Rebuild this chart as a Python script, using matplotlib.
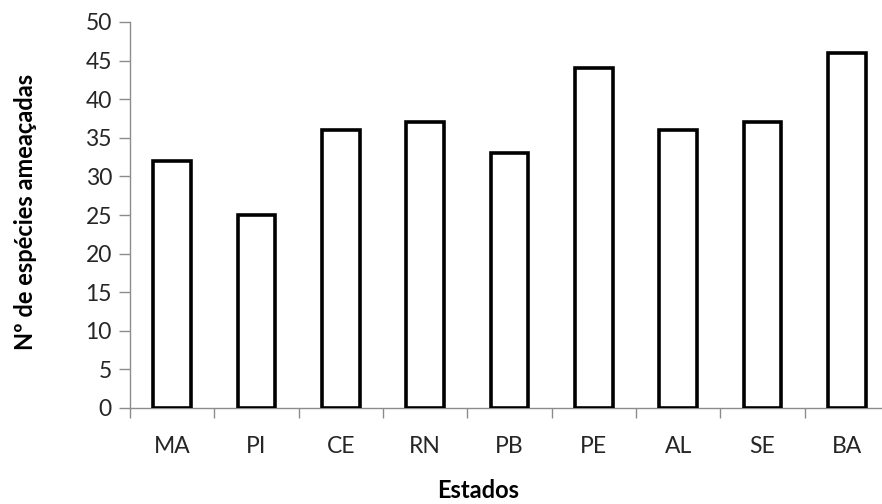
import numpy as np
import matplotlib.pyplot as plt

estados = ["MA", "PI", "CE", "RN", "PB", "PE", "AL", "SE", "BA"]
n_especies = [32, 25, 36, 37, 33, 44, 36, 37, 46]

plt.rcParams["font.family"] = ["Lato", "DejaVu Sans"]

W, H = 882, 504
fig = plt.figure(figsize=(W / 100, H / 100), dpi=100)
# plot area in pixels: left 130, right 889, top 22, bottom 408
ax = fig.add_axes([130 / W, 1 - 408 / H, (889 - 130) / W, (408 - 22) / H])

x = np.arange(len(estados))
ax.bar(x, n_especies, width=0.45, color="white", edgecolor="black", linewidth=2.6, zorder=3)

ax.set_xlim(-0.5, len(estados) - 0.5)
ax.set_ylim(0, 50)
ax.set_yticks(range(0, 51, 5))
ax.set_xticks(x)
ax.set_xticklabels(estados)
ax.set_xticks(np.arange(-0.5, len(estados), 1), minor=True)

for s in ["top", "right"]:
    ax.spines[s].set_visible(False)
for s in ["left", "bottom"]:
    ax.spines[s].set_color("#8c8c8c")
    ax.spines[s].set_linewidth(1.0)

ax.tick_params(axis="y", direction="out", length=8, width=1, color="#8c8c8c",
               labelsize=16.5, labelcolor="#262626", pad=5)
ax.tick_params(axis="x", which="major", length=0, labelsize=16.5,
               labelcolor="#262626", pad=20)
ax.tick_params(axis="x", which="minor", direction="out", length=7, width=1,
               color="#8c8c8c")

fig.text(26 / W, 1 - 212 / H, "Nº de espécies ameaçadas", rotation=90,
         ha="center", va="center", fontsize=17, fontweight="bold")
fig.text(478 / W, 1 - 490 / H, "Estados", ha="center", va="center",
         fontsize=17, fontweight="bold")

fig.savefig("out.png", dpi=100)
